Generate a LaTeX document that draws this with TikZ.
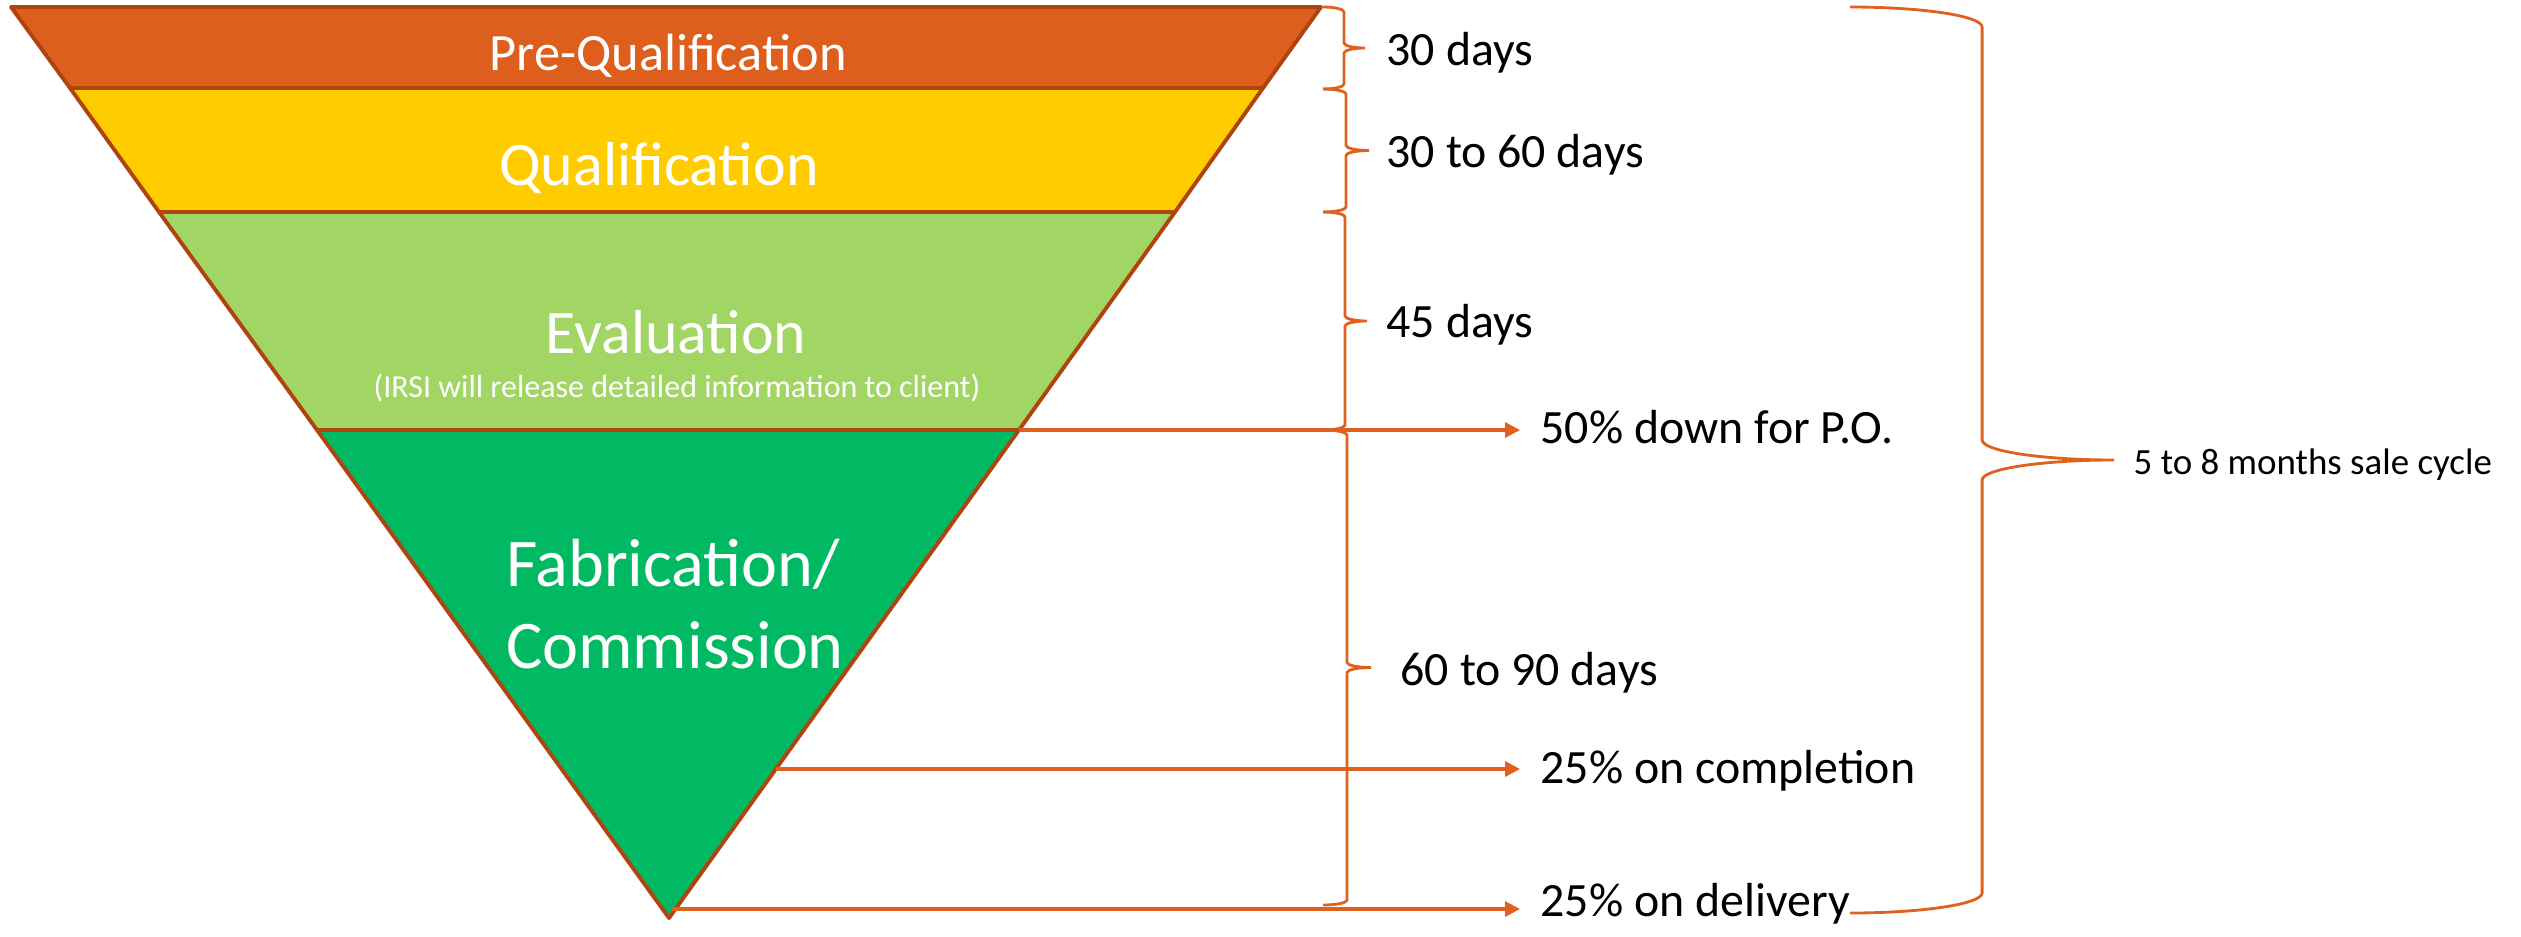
\documentclass[tikz,border=0pt]{standalone}
\usepackage{fontspec}
\setmainfont{Carlito}
\usetikzlibrary{arrows.meta,calc}

\definecolor{prequal}{HTML}{DE5E1E}
\definecolor{qual}{HTML}{FFCC00}
\definecolor{evalgreen}{HTML}{A2D664}
\definecolor{fabgreen}{HTML}{00B962}
\definecolor{edge}{HTML}{B0440F}
\definecolor{accent}{HTML}{E0601E}

% curly brace from #1 (top) to #2 (bottom), #3 = reach, #4 = curl
\newcommand\curly[4]{%
  \draw[brc] let \p1=(#1), \p2=(#2), \p3=($(#1)!0.5!(#2)$) in
    (\p1) .. controls (\x1+0.55*#3,\y1) and (\x1+#3,\y1-0.45*#4) .. (\x1+#3,\y1-#4)
    -- (\x1+#3,\y3+#4)
    .. controls (\x1+#3,\y3+0.45*#4) and (\x1+1.45*#3,\y3) .. (\x1+2*#3,\y3)
    .. controls (\x1+1.45*#3,\y3) and (\x1+#3,\y3-0.45*#4) .. (\x1+#3,\y3-#4)
    -- (\x1+#3,\y2+#4)
    .. controls (\x1+#3,\y2+0.45*#4) and (\x1+0.55*#3,\y2) .. (\p2);}

\begin{document}
\begin{tikzpicture}[x=0.01cm,y=-0.01cm]
        \tikzstyle{band}=[draw=edge,line width=1.1pt,line join=round]
        \tikzstyle{stage}=[text=white,inner sep=0pt,anchor=base]
        \tikzstyle{lbl}=[inner sep=0pt,anchor=base west,font=\fontsize{13.6}{16}\selectfont]
        \tikzstyle{arr}=[draw=accent,line width=0.9pt,-{Triangle[length=0.15cm,width=0.15cm]}]
        \tikzstyle{brc}=[draw=accent,line width=0.8pt]
        \useasboundingbox (0,0) rectangle (2521,936);
        % funnel
        \filldraw[band,fill=prequal] (11,7) -- (1321,7) -- (1263,88) -- (70,88) -- cycle;
        \filldraw[band,fill=qual] (70,88) -- (1263,88) -- (1175,212) -- (159,212) -- cycle;
        \filldraw[band,fill=evalgreen] (159,212) -- (1175,212) -- (1019,430) -- (317,430) -- cycle;
        \filldraw[band,fill=fabgreen] (317,430) -- (1019,430) -- (669,918) -- cycle;
        \coordinate (evR) at (1019,430);
        \coordinate (cmpR) at (776,769);
        \coordinate (bot) at (672,909);
        % stage names
        \node[stage,font=\fontsize{14.9}{18}\selectfont] (pq) at (668,70) {Pre-Qualification};
        \node[stage,font=\fontsize{17.6}{21}\selectfont] (q) at (659,185) {Qualification};
        \node[stage,font=\fontsize{17.6}{21}\selectfont] (ev) at (676,353) {Evaluation};
        \node[stage,font=\fontsize{9.1}{11}\selectfont] (evnote) at (677,397) {(IRSI will release detailed information to client)};
        \node[stage,font=\fontsize{19.4}{23.3}\selectfont,align=left] (fab) at (675,668) {Fabrication/\\Commission};
        % time labels
        \node[lbl] (t1) at (1386,65) {30 days};
        \node[lbl] (t2) at (1386,167) {30 to 60 days};
        \node[lbl] (t3) at (1386,337) {45 days};
        \node[lbl] (t4) at (1400,685) {60 to 90 days};
        \node[lbl] (po) at (1540,443) {50\% down for P.O.};
        \node[lbl] (cmp) at (1540,783) {25\% on completion};
        \node[lbl] (dlv) at (1540,916) {25\% on delivery};
        \node[lbl,font=\fontsize{10.5}{13}\selectfont] (cyc) at (2133,474) {5 to 8 months sale cycle};
        % payments
        \draw[arr] (evR) -- ([xshift=-0.2cm]evR -| po.west);
        \draw[arr] (cmpR) -- ([xshift=-0.2cm]cmpR -| cmp.west);
        \draw[arr] (bot) -- ([xshift=-0.2cm]bot -| dlv.west);
        % braces
        \coordinate (b0) at (1323,7);
        \coordinate (b1) at (1323,89);
        \coordinate (b2) at (1323,212);
        \coordinate (b3) at (1323,430);
        \coordinate (b4) at (1323,905);
        \curly{b0}{b1}{0.21cm}{0.05cm}
        \curly{b1}{b2}{0.23cm}{0.05cm}
        \curly{b2}{b3}{0.22cm}{0.05cm}
        \curly{b3}{b4}{0.24cm}{0.05cm}
        \coordinate (ct) at (1850,7);
        \coordinate (cb) at (1850,913);
        \curly{ct}{cb}{1.32cm}{0.2cm}
\end{tikzpicture}
\end{document}
